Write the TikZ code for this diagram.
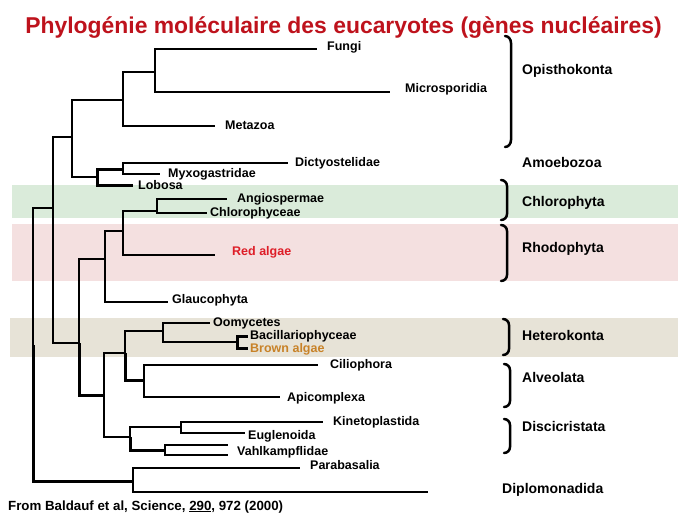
\documentclass[tikz,border=0pt]{standalone}
\usepackage{fontspec}
\setmainfont{Liberation Sans}
\usepackage{xcolor}
\usetikzlibrary{positioning}

\definecolor{titlered}{RGB}{190,18,28}
\definecolor{redtaxon}{RGB}{222,30,40}
\definecolor{browntaxon}{RGB}{200,130,40}
\definecolor{greenband}{RGB}{218,235,218}
\definecolor{redband}{RGB}{244,224,224}
\definecolor{brownband}{RGB}{231,227,215}

\tikzset{
  branch/.style={line width=2.1pt},
  thickbranch/.style={line width=3pt},
  taxon/.style={font={\fontsize{12.5}{14}\selectfont\bfseries}, inner sep=0pt,
    text height=9pt, text depth=0pt, yshift=1pt},
  clade/.style={font={\fontsize{14}{16}\selectfont\bfseries}, anchor=west,
    inner sep=0pt, text height=10pt, text depth=0pt},
  bracket/.style={line width=2.5pt, line cap=round},
}

\begin{document}
\begin{tikzpicture}[x=1pt, y=-1pt]
    \useasboundingbox (0,0) rectangle (689,517);
    % shaded bands
    \fill[greenband] (12,185) rectangle (678,218);
    \fill[redband] (12,224) rectangle (678,281);
    \fill[brownband] (10,318) rectangle (678,357);
    % title
    \node[font={\fontsize{22.9}{26}\selectfont\bfseries}, text=titlered, anchor=base]
        (title) at (343.5,33) {Phylogénie moléculaire des eucaryotes (gènes nucléaires)};
    % internal nodes of the tree
    \coordinate (nR) at (33,345);
    \coordinate (nB) at (53,208);
    \coordinate (nA) at (72,137);
    \coordinate (nOpi) at (123,100);
    \coordinate (nFM) at (155,72);
    \coordinate (nAmo) at (97,177);
    \coordinate (nDM) at (123,169);
    \coordinate (nC) at (79,343);
    \coordinate (nPl) at (105,259);
    \coordinate (nGR) at (123,231);
    \coordinate (nAC) at (157,211);
    \coordinate (nD) at (104,395);
    \coordinate (nHA) at (125,353);
    \coordinate (nHet) at (163,331);
    \coordinate (nBB) at (237,342);
    \coordinate (nAlv) at (144,380);
    \coordinate (nDis) at (130,437);
    \coordinate (nKE) at (181,427);
    \coordinate (nV) at (165,450);
    \coordinate (nDip) at (133,481);
    % tips
    \coordinate (tFungi) at (317,49);
    \coordinate (tMicro) at (390,92);
    \coordinate (tMeta) at (215,126);
    \coordinate (tDicty) at (288,163);
    \coordinate (tMyxo) at (160,174);
    \coordinate (tLobosa) at (133,185);
    \coordinate (tAngio) at (227,199);
    \coordinate (tChloro) at (207,213);
    \coordinate (tRed) at (215,255);
    \coordinate (tGlauco) at (168,302);
    \coordinate (tOomy) at (210,323);
    \coordinate (tBacil) at (248,336);
    \coordinate (tBrown) at (248,348);
    \coordinate (tCilio) at (318,365);
    \coordinate (tApico) at (280,397);
    \coordinate (tKineto) at (323,422);
    \coordinate (tEugl) at (245,433);
    \coordinate (tV1) at (228,445);
    \coordinate (tV2) at (228,455);
    \coordinate (tV) at (228,450);
    \coordinate (tPara) at (300,468);
    \coordinate (tDiplo) at (428,492);
    % branches
    \draw[branch] (nR) |- (nB);
    \draw[thickbranch] (nR) |- (nDip);
    \draw[branch] (nB) |- (nA);
    \draw[branch] (nB) |- (nC);
    \draw[branch] (nA) |- (nOpi);
    \draw[branch] (nA) |- (nAmo);
    \draw[branch] (nOpi) |- (nFM);
    \draw[branch] (nOpi) |- (tMeta);
    \draw[branch] (nFM) |- (tFungi);
    \draw[branch] (nFM) |- (tMicro);
    \draw[thickbranch] (nAmo) |- (nDM);
    \draw[thickbranch] (nAmo) |- (tLobosa);
    \draw[branch] (nDM) |- (tDicty);
    \draw[branch] (nDM) |- (tMyxo);
    \draw[branch] (nC) |- (nPl);
    \draw[thickbranch] (nC) |- (nD);
    \draw[branch] (nPl) |- (nGR);
    \draw[branch] (nPl) |- (tGlauco);
    \draw[branch] (nGR) |- (nAC);
    \draw[branch] (nGR) |- (tRed);
    \draw[branch] (nAC) |- (tAngio);
    \draw[branch] (nAC) |- (tChloro);
    \draw[branch] (nD) |- (nHA);
    \draw[branch] (nD) |- (nDis);
    \draw[branch] (nHA) |- (nHet);
    \draw[thickbranch] (nHA) |- (nAlv);
    \draw[branch] (nHet) |- (tOomy);
    \draw[branch] (nHet) |- (nBB);
    \draw[thickbranch] (nBB) |- (tBacil);
    \draw[thickbranch] (nBB) |- (tBrown);
    \draw[branch] (nAlv) |- (tCilio);
    \draw[branch] (nAlv) |- (tApico);
    \draw[branch] (nDis) |- (nKE);
    \draw[thickbranch] (nDis) |- (nV);
    \draw[branch] (nKE) |- (tKineto);
    \draw[branch] (nKE) |- (tEugl);
    \draw[branch] (nV) |- (tV1);
    \draw[branch] (nV) |- (tV2);
    \draw[branch] (nDip) |- (tPara);
    \draw[branch] (nDip) |- (tDiplo);
    % taxa
    \node[taxon, right=10pt of tFungi, yshift=2pt] (fungi) {Fungi};
    \node[taxon, right=15pt of tMicro, yshift=3pt] (micro) {Microsporidia};
    \node[taxon, right=10pt of tMeta] (meta) {Metazoa};
    \node[taxon, right=7pt of tDicty] (dicty) {Dictyostelidae};
    \node[taxon, right=8pt of tMyxo] (myxo) {Myxogastridae};
    \node[taxon, right=5pt of tLobosa, yshift=-1pt] (lobosa) {Lobosa};
    \node[taxon, right=10pt of tAngio] (angio) {Angiospermae};
    \node[taxon, right=3pt of tChloro] (chloro) {Chlorophyceae};
    \node[taxon, right=17pt of tRed, yshift=3pt, text=redtaxon] (red) {Red algae};
    \node[taxon, right=4pt of tGlauco, yshift=2pt] (glauco) {Glaucophyta};
    \node[taxon, right=3pt of tOomy] (oomy) {Oomycetes};
    \node[taxon, right=2pt of tBacil] (bacil) {Bacillariophyceae};
    \node[taxon, right=2pt of tBrown, yshift=-1pt, text=browntaxon] (brown) {Brown algae};
    \node[taxon, right=12pt of tCilio] (cilio) {Ciliophora};
    \node[taxon, right=7pt of tApico, yshift=-1pt] (apico) {Apicomplexa};
    \node[taxon, right=10pt of tKineto] (kineto) {Kinetoplastida};
    \node[taxon, right=3pt of tEugl, yshift=-3pt] (eugl) {Euglenoida};
    \node[taxon, right=9pt of tV, yshift=-2pt] (vahl) {Vahlkampflidae};
    \node[taxon, right=10pt of tPara, yshift=2pt] (para) {Parabasalia};
    % groups
    \draw[bracket] (505,36) to[out=0,in=90] (511,43) -- (511,140) to[out=-90,in=0] (505,147);
    \draw[bracket] (501,180) to[out=0,in=90] (507,186) -- (507,214) to[out=-90,in=0] (501,220);
    \draw[bracket] (501,225) to[out=0,in=90] (507,231) -- (507,275) to[out=-90,in=0] (501,281);
    \draw[bracket] (503,319) to[out=0,in=90] (509,325) -- (509,349) to[out=-90,in=0] (503,355);
    \draw[bracket] (504,364) to[out=0,in=90] (510,370) -- (510,401) to[out=-90,in=0] (504,407);
    \draw[bracket] (504,419) to[out=0,in=90] (510,425) -- (510,447) to[out=-90,in=0] (504,453);
    \node[clade] (opis) at (522,69) {Opisthokonta};
    \node[clade] (amoe) at (522,162) {Amoebozoa};
    \node[clade] (chlorophyta) at (522,201) {Chlorophyta};
    \node[clade] (rhodo) at (522,247) {Rhodophyta};
    \node[clade] (hetero) at (522,335) {Heterokonta};
    \node[clade] (alveo) at (522,377) {Alveolata};
    \node[clade] (disci) at (522,426) {Discicristata};
    \node[clade] (diplo) at (502,488.5) {Diplomonadida};
    % source
    \node[font={\fontsize{13.3}{15}\selectfont\bfseries}, anchor=base west, inner sep=0pt]
        (source) at (8,510) {From Baldauf et al, Science, \underline{290}, 972 (2000)};
\end{tikzpicture}
\end{document}
